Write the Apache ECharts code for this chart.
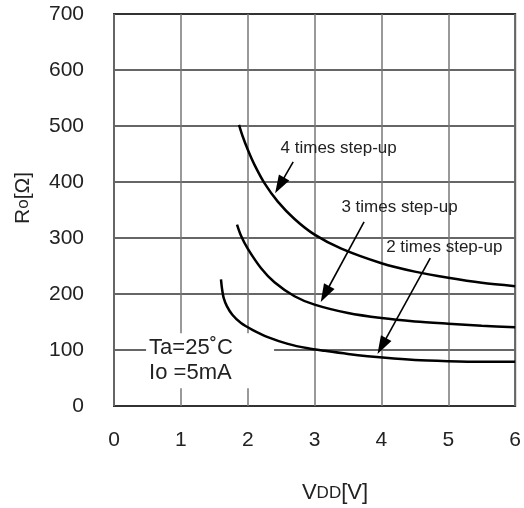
<!DOCTYPE html>
<html>
<head>
<meta charset="utf-8">
<script src="https://cdn.jsdelivr.net/npm/echarts@6/dist/echarts.min.js"></script>
<style>html,body{margin:0;padding:0;background:#fff;}#c{width:524px;height:508px;}</style>
</head>
<body>
<div id="c"></div>
<script>
// ---- data ----
const xMin = 0, xMax = 6, xStep = 1;
const yMin = 0, yMax = 700, yStep = 100;

const vdd4 = [1.87, 1.92, 2.0, 2.1, 2.25, 2.45, 2.7, 3.0, 3.4, 4.0, 4.5, 5.0, 5.5, 6.0];
const ro4  = [502, 483, 458, 431, 398, 365, 334, 306, 281, 255, 240, 229, 220, 214];

const vdd3 = [1.84, 1.9, 2.0, 2.2, 2.4, 2.7, 3.0, 3.5, 4.0, 4.5, 5.0, 5.5, 6.0];
const ro3  = [324, 304, 281, 246, 221, 196, 181, 166, 157, 151, 147, 143.5, 140.5];

const vdd2 = [1.6, 1.615, 1.64, 1.69, 1.77, 1.9, 2.07, 2.3, 2.6, 2.9, 3.15, 3.5, 4.06, 4.5, 5.0, 5.5, 6.0];
const ro2  = [226, 210, 193, 178, 163, 148, 136, 123, 111, 103, 98.5, 93, 86, 82, 80, 79, 79];

const seriesNames = ['4 times step-up', '3 times step-up', '2 times step-up'];
// arrow [start, end] in data units
const arrows = [
  [[2.68, 436], [2.477, 394]],
  [[3.74, 329], [3.156, 200]],
  [[4.73, 264], [4.006, 107]]
];
// label centres in data units
const labelPos = [[3.36, 461], [4.27, 354], [4.94, 284]];
const noteLines = ['Ta=25˚C', 'Io =5mA'];
const noteAnchor = [0.48, 130]; // top-left of the note box

const zip = (xs, ys) => xs.map((x, i) => [x, ys[i]]);
const curves = [zip(vdd4, ro4), zip(vdd3, ro3), zip(vdd2, ro2)];

const FONT = '"Liberation Sans", Arial, Helvetica, sans-serif';
const TXT = '#222';

const chart = echarts.init(document.getElementById('c'), null, {renderer: 'canvas'});

const series = curves.map((d, i) => ({
  type: 'line',
  name: seriesNames[i],
  data: d,
  smooth: 0.3,
  showSymbol: false,
  symbol: 'none',
  lineStyle: {color: '#000', width: 2.5},
  z: 5,
  markLine: {
    silent: true,
    symbol: ['none', 'triangle'],
    symbolSize: [12, 18],
    lineStyle: {color: '#000', width: 1.6, type: 'solid'},
    label: {show: false},
    data: [[{coord: arrows[i][0]}, {coord: arrows[i][1]}]]
  },
  markPoint: {
    silent: true,
    symbol: 'circle',
    symbolSize: 0,
    label: {
      show: true, position: 'inside', formatter: seriesNames[i],
      fontFamily: FONT, fontSize: 17, color: TXT
    },
    data: [{coord: labelPos[i]}]
  }
}));

chart.setOption({
  animation: false,
  backgroundColor: '#fff',
  grid: {left: 114, right: 5, top: 14, bottom: 102, show: true, borderColor: '#333', borderWidth: 2, backgroundColor: 'transparent'},
  xAxis: {
    type: 'value', min: xMin, max: xMax, interval: xStep,
    axisLine: {show: false}, axisTick: {show: false},
    axisLabel: {fontFamily: FONT, fontSize: 21, color: TXT, margin: 24},
    splitLine: {show: true, lineStyle: {color: '#777', width: 1.5}}
  },
  yAxis: {
    type: 'value', min: yMin, max: yMax, interval: yStep,
    axisLine: {show: false}, axisTick: {show: false},
    axisLabel: {fontFamily: FONT, fontSize: 21, color: TXT, margin: 30},
    splitLine: {show: true, lineStyle: {color: '#333', width: 1.5}}
  },
  series: series
});

const tl = chart.convertToPixel({gridIndex: 0}, noteAnchor);
chart.setOption({
  graphic: [
    {
      type: 'rect', z: 3, silent: true,
      shape: {x: tl[0], y: tl[1], width: 128, height: 55},
      style: {fill: '#fff'}
    },
    {
      type: 'text', z: 4, silent: true,
      x: tl[0] + 3, y: tl[1] + 2,
      style: {text: noteLines.join('\n'), font: '22px ' + FONT, fill: TXT, lineHeight: 25}
    },
    {
      type: 'text', silent: true, x: 23, y: 198, rotation: Math.PI / 2,
      style: {
        text: '{a|R}{b|o}{a|[Ω]}', align: 'center', verticalAlign: 'middle',
        rich: {a: {fontFamily: FONT, fontSize: 21, fill: TXT, color: TXT}, b: {fontFamily: FONT, fontSize: 17, fill: TXT, color: TXT}}
      }
    },
    {
      type: 'text', silent: true, x: 335, y: 493,
      style: {
        text: '{a|V}{b|DD}{a|[V]}', align: 'center', verticalAlign: 'middle',
        rich: {a: {fontFamily: FONT, fontSize: 22, fill: TXT, color: TXT}, b: {fontFamily: FONT, fontSize: 17, fill: TXT, color: TXT}}
      }
    }
  ]
});
</script>
</body>
</html>
